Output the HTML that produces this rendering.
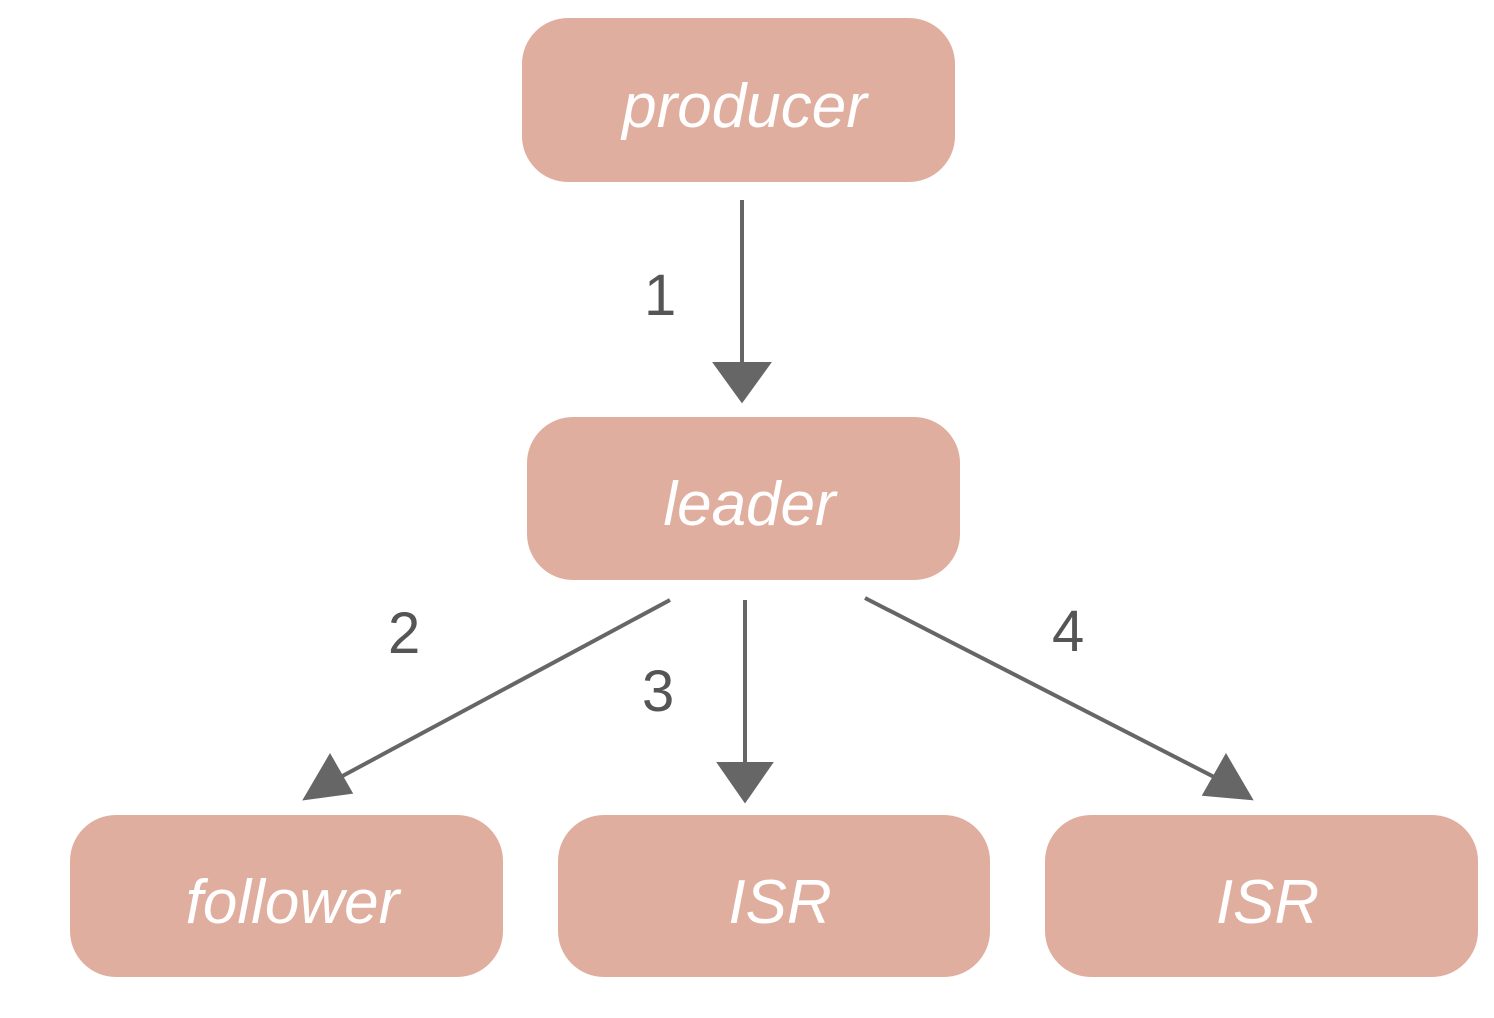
<!DOCTYPE html>
<html><head><meta charset="utf-8"><style>
html,body{margin:0;padding:0;background:#fff;}
body{width:1494px;height:1018px;position:relative;overflow:hidden;font-family:"Liberation Sans",sans-serif;}
.b{position:absolute;background:#e0ae9e;border-radius:46px;color:#fff;font-size:62px;display:flex;align-items:center;justify-content:center;font-style:italic;box-sizing:border-box;padding-top:12px;padding-left:12px;}
.n{position:absolute;color:#555;font-size:58px;}
</style></head><body>
<div class="b" style="left:522px;top:18px;width:433px;height:164px;">producer</div>
<div class="b" style="left:527px;top:417px;width:433px;height:163px;">leader</div>
<div class="b" style="left:70px;top:815px;width:433px;height:162px;">follower</div>
<div class="b" style="left:558px;top:815px;width:432px;height:162px;">ISR</div>
<div class="b" style="left:1045px;top:815px;width:433px;height:162px;">ISR</div>
<svg width="1494" height="1018" style="position:absolute;left:0;top:0">
<g stroke="#666" stroke-width="4" fill="#666">
<line x1="742" y1="200" x2="742" y2="365"/>
<polygon points="716,364 768,364 742,400"/>
<line x1="670" y1="600" x2="335" y2="780"/>
<polygon points="306,798 330,757 350,792"/>
<line x1="745" y1="600" x2="745" y2="765"/>
<polygon points="720,764 770,764 745,800"/>
<line x1="865" y1="598" x2="1220" y2="780"/>
<polygon points="1250,798 1205,794 1226,757"/>
</g>
</svg>
<div class="n" style="left:644px;top:262px;">1</div>
<div class="n" style="left:388px;top:600px;">2</div>
<div class="n" style="left:642px;top:658px;">3</div>
<div class="n" style="left:1052px;top:598px;">4</div>
</body></html>
